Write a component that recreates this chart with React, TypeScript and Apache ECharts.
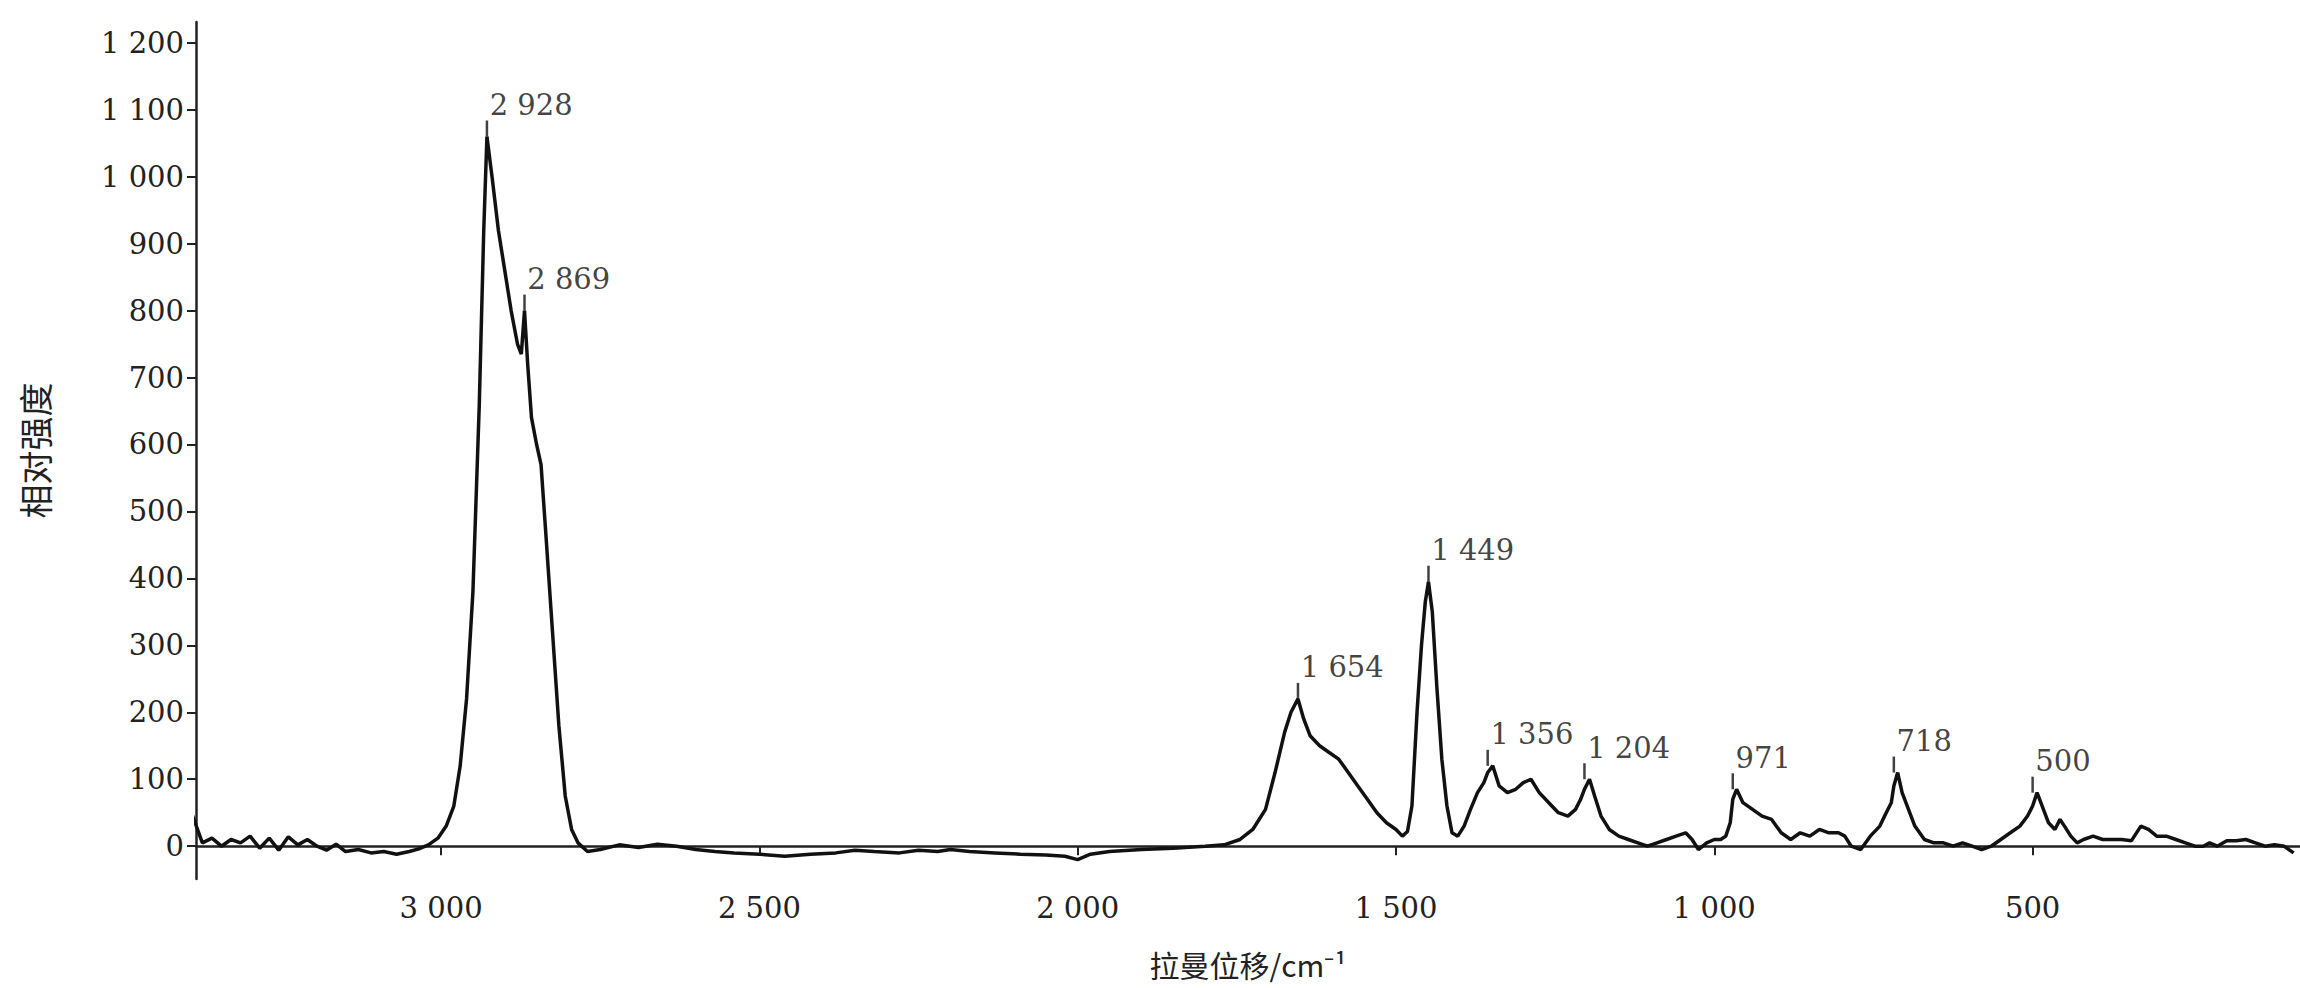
import React, { useEffect, useRef } from "react";
import * as echarts from "echarts";

const shifts = [3392,3375,3360,3345,3330,3315,3300,3285,3270,3255,3240,3225,3210,3195,3180,3165,3150,3130,3110,3090,3070,3050,3035,3020,3005,2992,2980,2970,2960,2950,2940,2933,2928,2920,2910,2900,2890,2880,2874,2869,2864,2858,2850,2843,2835,2825,2815,2805,2795,2785,2770,2750,2720,2690,2660,2630,2600,2570,2540,2500,2460,2420,2380,2350,2320,2280,2250,2220,2200,2170,2130,2090,2050,2020,2000,1980,1950,1900,1850,1800,1770,1745,1725,1705,1690,1675,1665,1654,1645,1635,1620,1605,1590,1575,1560,1545,1530,1515,1500,1490,1482,1475,1467,1460,1454,1449,1443,1436,1428,1420,1412,1403,1393,1383,1372,1362,1356,1348,1338,1325,1312,1300,1288,1275,1260,1245,1230,1218,1210,1204,1196,1188,1178,1165,1150,1135,1120,1105,1090,1075,1060,1045,1035,1025,1012,1000,990,982,975,971,965,955,940,925,910,895,880,865,850,835,820,805,795,785,770,755,740,730,722,718,712,705,695,685,670,655,640,625,610,595,580,565,550,535,520,508,500,493,485,475,465,457,450,440,430,420,405,390,375,360,345,330,318,305,290,275,260,245,232,222,210,195,180,165,150,135,120,105,90];
const intensity = [50,5,12,0,10,5,15,-3,12,-6,14,2,10,0,-6,3,-8,-5,-10,-8,-12,-8,-4,2,12,30,60,120,220,380,660,920,1060,1000,920,860,800,750,735,800,720,640,600,570,460,320,180,75,25,5,-8,-5,2,-2,3,0,-5,-8,-10,-12,-15,-12,-10,-6,-8,-10,-6,-8,-5,-8,-10,-12,-13,-15,-20,-12,-8,-5,-3,0,2,10,25,55,110,170,200,220,190,165,150,140,130,110,90,70,50,35,25,15,22,60,200,300,365,395,350,240,130,60,20,15,30,55,80,95,110,120,90,80,85,95,100,80,65,50,45,55,70,85,100,75,45,25,15,10,5,0,5,10,15,20,10,-5,5,10,10,15,35,70,85,65,55,45,40,20,10,20,15,25,20,20,15,0,-5,15,30,50,65,90,110,80,55,30,10,5,5,0,5,0,-5,0,10,20,30,45,60,80,60,35,25,40,30,15,5,10,15,10,10,10,8,30,25,15,15,10,5,0,0,5,0,8,8,10,5,0,2,0,-10,-25];
const peakX = [2928,2869,1654,1449,1356,1204,971,718,500];
const peakY = [1060,800,220,395,120,100,85,110,80];
const peakLabels = ["2 928","2 869","1 654","1 449","1 356","1 204","971","718","500"];
const xTicks = [500, 1000, 1500, 2000, 2500, 3000];
const yTicks = [0, 100, 200, 300, 400, 500, 600, 700, 800, 900, 1000, 1100, 1200];

const fmt = (v: number) => {
  const s = String(Math.round(v));
  return s.length > 3 ? s.slice(0, s.length - 3) + " " + s.slice(-3) : s;
};

export default function App() {
  const ref = useRef<HTMLDivElement>(null);
  useEffect(() => {
    document.body.style.margin = "0";
    const chart = echarts.init(ref.current!, null, { renderer: "svg" });
    const font = "DejaVu Serif";
    const line = shifts.map((x, i) => [x, intensity[i]]);
    const peaks = peakX.map((x, i) => ({ value: [x, peakY[i]], label: { formatter: peakLabels[i] } }));
    chart.setOption({
      animation: false,
      backgroundColor: "#fff",
      grid: { left: 196, right: 0, top: 22, bottom: 109 },
      xAxis: {
        type: "value", inverse: true, min: 80, max: 3385,
        axisLine: { show: true, lineStyle: { color: "#222", width: 2.5 } },
        axisTick: { show: true, length: 9, lineStyle: { color: "#222", width: 2 }, customValues: xTicks },
        axisLabel: { color: "#222", fontFamily: font, fontSize: 29, margin: 14, formatter: fmt, customValues: xTicks },
        splitLine: { show: false },
        name: "拉曼位移/cm⁻¹", nameLocation: "middle", nameGap: 70,
        nameTextStyle: { color: "#222", fontFamily: "Noto Sans CJK SC", fontSize: 30 },
      },
      yAxis: {
        type: "value", min: -49, max: 1231,
        axisLine: { show: true, lineStyle: { color: "#222", width: 2.5 } },
        axisTick: { show: true, length: 9, lineStyle: { color: "#222", width: 2 }, customValues: yTicks },
        axisLabel: { color: "#222", fontFamily: font, fontSize: 29, margin: 12, formatter: fmt, customValues: yTicks },
        splitLine: { show: false },
        name: "相对强度", nameLocation: "middle", nameGap: 145, nameRotate: 90,
        nameTextStyle: { color: "#222", fontFamily: "Noto Sans CJK SC", fontSize: 34 },
      },
      series: [
        { type: "line", data: line, showSymbol: false, lineStyle: { color: "#111", width: 3.5 } },
        {
          type: "scatter", data: peaks, symbol: "rect", symbolSize: [2.5, 16], symbolOffset: [0, -8],
          itemStyle: { color: "#111" },
          label: { show: true, position: [4, -30], color: "#111", fontFamily: font, fontSize: 29 },
        },
      ],
    });
    return () => chart.dispose();
  }, []);
  return <div ref={ref} style={{ width: 2300, height: 988 }} />;
}
